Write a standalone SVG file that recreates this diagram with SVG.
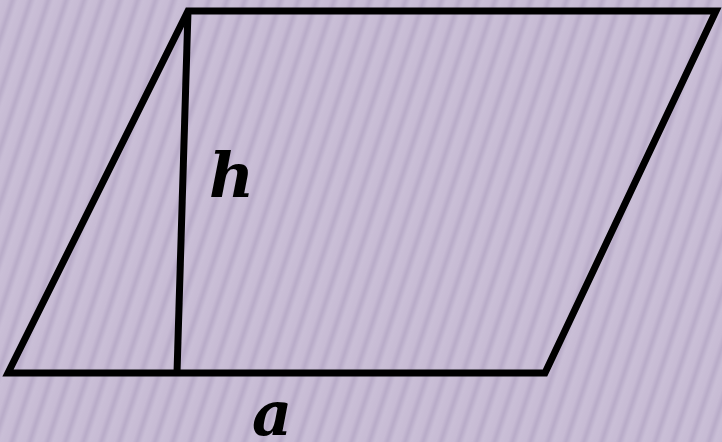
<svg xmlns="http://www.w3.org/2000/svg" width="722" height="442" viewBox="0 0 722 442">
<defs>
<linearGradient id="sg" x1="0" y1="0" x2="1" y2="0">
<stop offset="0" stop-color="#cabfd7"/>
<stop offset="0.45" stop-color="#c7bbd4"/>
<stop offset="0.7" stop-color="#b8abc8"/>
<stop offset="1" stop-color="#cabfd7"/>
</linearGradient>
<pattern id="stripes" width="17" height="40" patternUnits="userSpaceOnUse" patternTransform="rotate(18)">
<rect width="17" height="40" fill="url(#sg)"/>
</pattern>
<style>
.edge{fill:none;stroke:#000;stroke-width:7;stroke-linejoin:miter}
.lbl{font-family:"DejaVu Serif",serif;font-weight:bold;font-style:italic;font-size:62px;fill:#000}
</style>
</defs>
<rect width="722" height="442" fill="#c9bdd6"/>
<rect width="722" height="442" fill="url(#stripes)"/>
<g id="connectors">
<polygon id="parallelogram" class="edge" points="188,11 716,11 545,373 8,373"/>
<line id="height" class="edge" x1="188" y1="11" x2="177" y2="373"/>
</g>
<g id="label-h"><text class="lbl" x="209" y="197">h</text></g>
<g id="label-a"><text class="lbl" x="252" y="435">a</text></g>
</svg>
